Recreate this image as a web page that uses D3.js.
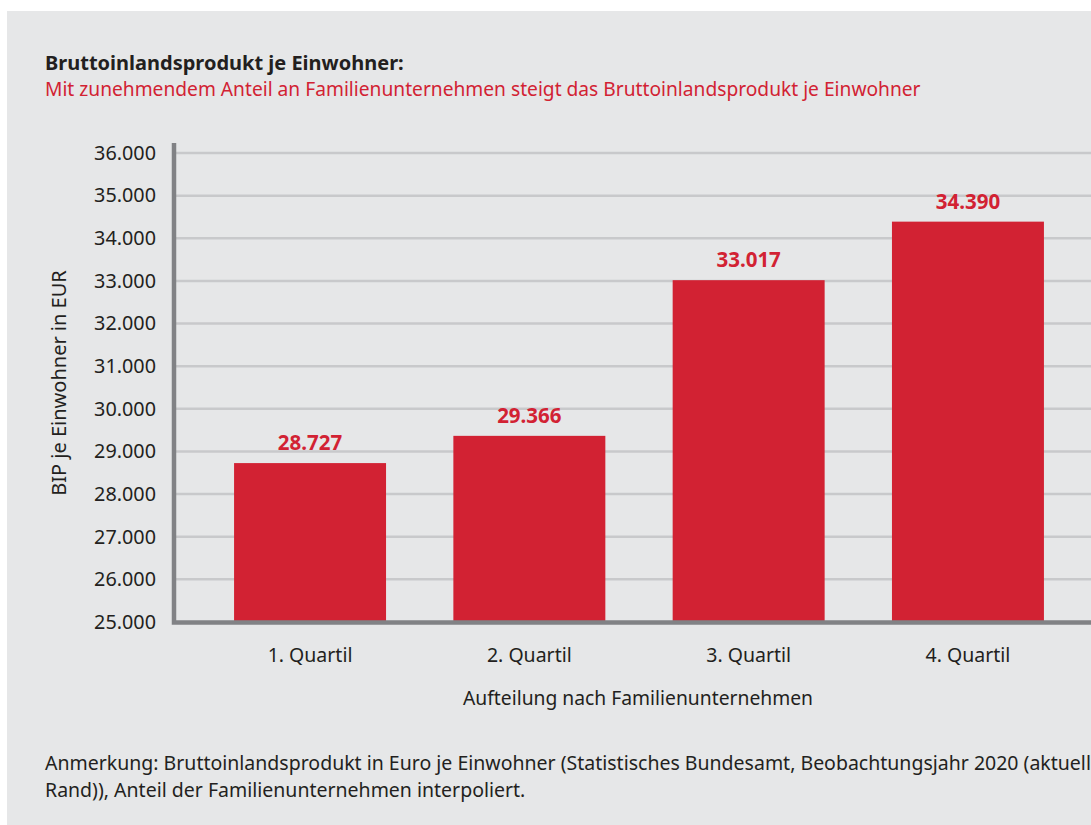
<!DOCTYPE html>
<html>
<head>
<meta charset="utf-8">
<script src="https://cdn.jsdelivr.net/npm/d3@7"></script>
<style>
  html, body { margin: 0; padding: 0; background: #fff; }
  svg { display: block; font-family: "Noto Sans", "Open Sans", sans-serif; }
</style>
</head>
<body>
<svg id="chart" width="1091" height="825"></svg>
<script>
(() => {
    'use strict';

    const categories = ['1. Quartil', '2. Quartil', '3. Quartil', '4. Quartil'];
    const values = [28727, 29366, 33017, 34390];
    const yTicks = [25000, 26000, 27000, 28000, 29000, 30000, 31000, 32000, 33000, 34000, 35000, 36000];

    const red = '#d22233',
          dark = '#231f20',
          axisGray = '#818285',
          gridGray = '#c8c9cb';

    const svg = d3.select('#chart');
    const fmt = d => d3.format(',')(d).replace(/,/g, '.');

    // panel
    svg.append('rect')
        .attr('x', 7).attr('y', 11)
        .attr('width', 1091 - 7).attr('height', 825 - 11)
        .attr('fill', '#e6e7e8');

    // title + subtitle
    svg.append('text')
        .attr('x', 45).attr('y', 70)
        .attr('font-size', 20).attr('font-weight', 'bold')
        .attr('fill', dark)
        .text('Bruttoinlandsprodukt je Einwohner:');
    svg.append('text')
        .attr('x', 45).attr('y', 96)
        .attr('font-size', 19.2)
        .attr('fill', red)
        .text('Mit zunehmendem Anteil an Familienunternehmen steigt das Bruttoinlandsprodukt je Einwohner');

    const x = d3.scaleBand()
        .domain(categories)
        .range([200.4, 1077.6])
        .paddingInner(0.307)
        .paddingOuter(0.1535);

    const y = d3.scaleLinear()
        .domain([25000, 36000])
        .range([622, 153]);

    // gridlines
    svg.append('g')
        .selectAll('line')
        .data(yTicks.slice(1))
        .enter()
        .append('line')
        .attr('x1', 176).attr('x2', 1091)
        .attr('y1', d => y(d)).attr('y2', d => y(d))
        .attr('stroke', gridGray)
        .attr('stroke-width', 2.5);

    // bars
    svg.append('g')
        .selectAll('rect')
        .data(values)
        .enter()
        .append('rect')
        .attr('x', (d, i) => x(categories[i]))
        .attr('width', x.bandwidth())
        .attr('y', d => y(d))
        .attr('height', d => y(25000) - y(d))
        .attr('fill', red);

    // value labels
    svg.append('g')
        .selectAll('text')
        .data(values)
        .enter()
        .append('text')
        .attr('x', (d, i) => x(categories[i]) + x.bandwidth() / 2)
        .attr('y', d => y(d) - 13)
        .attr('text-anchor', 'middle')
        .attr('font-size', 20.5).attr('font-weight', 'bold')
        .attr('fill', red)
        .text(d => fmt(d));

    // y axis
    const yAxis = d3.axisLeft(y).tickValues(yTicks).tickSize(0).tickPadding(0).tickFormat(fmt);
    const gy = svg.append('g')
        .attr('transform', 'translate(156,0)')
        .call(yAxis);
    gy.select('.domain').remove();
    gy.selectAll('text')
        .attr('font-family', '"Noto Sans", sans-serif')
        .attr('font-size', 19.8)
        .attr('fill', dark);

    // x axis
    const xAxis = d3.axisBottom(x).tickSize(0).tickPadding(0);
    const gx = svg.append('g')
        .attr('transform', 'translate(0,648)')
        .call(xAxis);
    gx.select('.domain').remove();
    gx.selectAll('text')
        .attr('font-family', '"Noto Sans", sans-serif')
        .attr('font-size', 19.5)
        .attr('fill', dark);

    // axis lines
    svg.append('path')
        .attr('d', 'M174,143V622.5H1091')
        .attr('fill', 'none')
        .attr('stroke', axisGray)
        .attr('stroke-width', 4.5);

    // axis titles
    svg.append('text')
        .attr('transform', 'translate(66,383) rotate(-90)')
        .attr('text-anchor', 'middle')
        .attr('font-size', 20)
        .attr('fill', dark)
        .text('BIP je Einwohner in EUR');
    svg.append('text')
        .attr('x', 638).attr('y', 705)
        .attr('text-anchor', 'middle')
        .attr('font-size', 19.3)
        .attr('fill', dark)
        .text('Aufteilung nach Familienunternehmen');

    // note (runs past the right edge, as in the original)
    svg.append('text')
        .attr('x', 45).attr('y', 770)
        .attr('font-size', 19.5)
        .attr('fill', dark)
        .text('Anmerkung: Bruttoinlandsprodukt in Euro je Einwohner (Statistisches Bundesamt, Beobachtungsjahr 2020 (aktueller');
    svg.append('text')
        .attr('x', 45).attr('y', 797)
        .attr('font-size', 19.5)
        .attr('fill', dark)
        .text('Rand)), Anteil der Familienunternehmen interpoliert.');
})();
</script>
</body>
</html>
